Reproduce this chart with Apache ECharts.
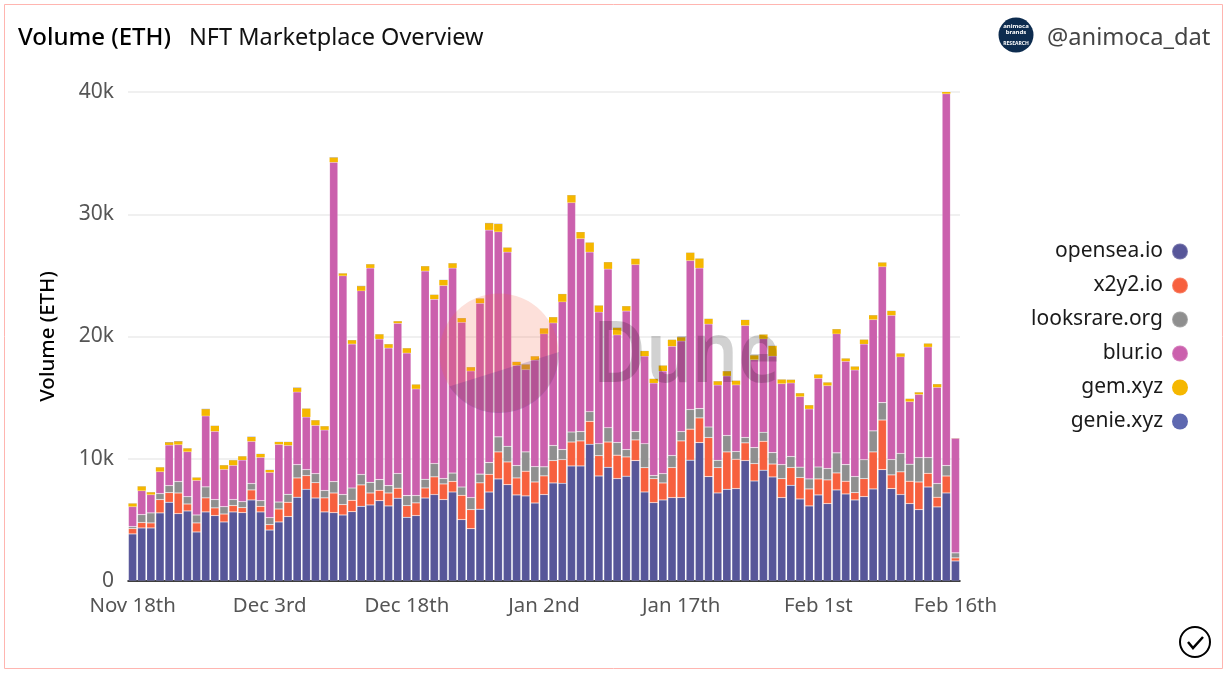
<!DOCTYPE html>
<html><head><meta charset="utf-8">
<style>html,body{margin:0;padding:0;background:#fff}#c{width:1227px;height:673px}</style>
<script src="https://cdn.jsdelivr.net/npm/echarts@6/dist/echarts.min.js"></script>
</head><body><div id="c"></div>
<script>
const FONT='"Noto Sans"';
const categories=["Nov 18th","Nov 19th","Nov 20th","Nov 21st","Nov 22nd","Nov 23rd","Nov 24th","Nov 25th","Nov 26th","Nov 27th","Nov 28th","Nov 29th","Nov 30th","Dec 1st","Dec 2nd","Dec 3rd","Dec 4th","Dec 5th","Dec 6th","Dec 7th","Dec 8th","Dec 9th","Dec 10th","Dec 11th","Dec 12th","Dec 13th","Dec 14th","Dec 15th","Dec 16th","Dec 17th","Dec 18th","Dec 19th","Dec 20th","Dec 21st","Dec 22nd","Dec 23rd","Dec 24th","Dec 25th","Dec 26th","Dec 27th","Dec 28th","Dec 29th","Dec 30th","Dec 31st","Jan 1st","Jan 2nd","Jan 3rd","Jan 4th","Jan 5th","Jan 6th","Jan 7th","Jan 8th","Jan 9th","Jan 10th","Jan 11th","Jan 12th","Jan 13th","Jan 14th","Jan 15th","Jan 16th","Jan 17th","Jan 18th","Jan 19th","Jan 20th","Jan 21st","Jan 22nd","Jan 23rd","Jan 24th","Jan 25th","Jan 26th","Jan 27th","Jan 28th","Jan 29th","Jan 30th","Jan 31st","Feb 1st","Feb 2nd","Feb 3rd","Feb 4th","Feb 5th","Feb 6th","Feb 7th","Feb 8th","Feb 9th","Feb 10th","Feb 11th","Feb 12th","Feb 13th","Feb 14th","Feb 15th","Feb 16th"];
const opensea=[3850,4340,4340,5570,6440,5510,5730,4010,5650,5350,4830,5650,5590,6630,5650,4170,4830,5270,6850,7500,6790,5650,5590,5400,5670,6110,6220,6570,6140,6770,5210,5350,6790,7070,6660,7280,5020,4280,5870,7280,8350,7880,7040,6960,6380,7070,8020,7990,9410,9410,11180,8590,9300,8380,8570,9850,7280,6410,6630,6820,6820,9880,11320,8540,7200,7500,7560,9850,8180,9060,8510,6820,7830,6710,6140,7040,6330,7450,7120,6630,6900,7530,9110,7560,7070,6330,5840,7690,6060,7200,1640];
const x2y2=[440,440,410,1090,790,1690,570,740,1150,630,650,520,410,820,460,440,1060,1170,1580,1120,1250,1150,1610,850,930,1750,980,850,1060,820,950,1040,820,1450,1280,870,1990,1560,2160,1450,2210,1860,1390,2020,1720,1530,1830,1940,1960,2050,1880,1660,2070,1910,1580,1690,1990,1960,1390,2460,4640,2540,2020,3190,2070,3060,2400,1450,1420,2370,1060,1550,1450,1750,1390,1310,1940,1390,1040,600,1470,3030,4060,1120,1860,1830,2260,1120,790,1390,250];
const looksrare=[160,650,820,490,570,930,600,650,900,680,600,490,490,520,460,570,570,650,1090,490,740,600,930,820,1010,850,870,870,600,1200,820,600,710,1090,440,680,680,980,710,950,1230,1280,1010,1580,1250,740,1230,820,820,760,790,980,1170,1040,600,680,1960,250,760,980,760,1610,760,870,600,1340,630,440,1310,740,930,1150,900,850,820,980,930,1640,1360,1310,1550,1720,1420,1250,1500,1390,1990,1280,1120,850,410];
const blur=[1640,1960,1500,1800,3330,3030,3680,2840,5810,5590,3060,2810,3410,3460,3550,3710,4720,4010,5950,4310,3960,4960,26130,17900,11790,15030,17540,11510,11270,12300,11680,8730,17050,13450,15800,16780,13480,10370,13990,19040,16780,15900,8210,6740,8730,10880,10040,12090,18770,15800,13070,10780,12990,8810,11350,13670,7170,7580,8400,8950,7420,12190,11510,8430,6170,4880,5460,9170,7200,7640,7910,6630,6030,5780,5730,7260,6790,9740,8460,8730,9470,9110,11130,11810,7910,5130,5180,9060,7880,30420,9380];
const gem=[250,350,190,350,220,270,270,220,550,440,330,410,300,350,270,190,190,270,330,680,410,300,380,190,300,380,300,380,300,160,380,350,380,350,440,380,330,300,380,550,630,350,270,410,300,440,460,630,600,520,760,520,550,570,380,460,410,330,440,520,300,630,760,410,300,380,330,440,350,350,820,330,250,270,300,300,250,380,220,270,350,350,330,350,270,220,160,270,250,250,10];
const genie=[10,10,10,10,20,20,10,10,20,10,10,10,10,20,10,10,10,10,20,10,10,10,20,10,10,20,10,10,10,10,10,10,10,10,10,10,10,10,10,20,20,10,10,10,10,10,10,10,10,10,10,10,10,10,10,10,10,10,10,10,10,10,10,10,10,10,10,10,10,10,10,10,10,10,10,10,10,10,10,10,10,10,10,10,10,10,10,10,10,10,5];
const seriesNames=["opensea.io","x2y2.io","looksrare.org","blur.io","gem.xyz","genie.xyz"];
const seriesValues=[opensea,x2y2,looksrare,blur,gem,genie];
const colors=["#575699","#f7603e","#8f8f8f","#cb60ad","#f5b700","#5e68b0"];
const yTicks={min:0,max:40000,interval:10000};

// outline of the lower part of the watermark logo
const logoLower=[];
for(let a=-1;a<=146;a+=3){const r=a*Math.PI/180;logoLower.push([499+60*Math.cos(r),353+60*Math.sin(r)]);}

const chart=echarts.init(document.getElementById('c'),null,{renderer:'canvas'});
chart.setOption({
  animation:false,
  backgroundColor:'#fff',
  color:colors,
  grid:{left:128,right:267,top:92,bottom:92,containLabel:false},
  legend:{orient:'vertical',right:33,top:236,align:'right',icon:'circle',itemWidth:16,itemHeight:16,itemGap:13,
    selectedMode:false,data:seriesNames,textStyle:{fontFamily:FONT,fontSize:21,color:'#1a1a1a',padding:[0,4,0,0]}},
  xAxis:{type:'category',data:categories,boundaryGap:true,
    axisTick:{show:false},axisLine:{show:true,lineStyle:{color:'#000',width:1.5}},
    axisLabel:{interval:14,margin:15,fontFamily:FONT,fontSize:20.4,color:'#555',hideOverlap:false},splitLine:{show:false}},
  yAxis:{type:'value',min:yTicks.min,max:yTicks.max,interval:yTicks.interval,
    name:'Volume (ETH)',nameLocation:'middle',nameGap:69,
    nameTextStyle:{fontFamily:FONT,fontSize:20.5,fontWeight:500,color:'#000'},
    axisLine:{show:false},axisTick:{show:false},
    axisLabel:{margin:14,fontFamily:FONT,fontSize:21,color:'#555',padding:[0,0,4,0],formatter:v=>v===0?'0':(v/1000)+'k'},
    splitLine:{show:true,lineStyle:{color:'#f0f0f0',width:2}}},
  series:seriesNames.map((n,i)=>({name:n,type:'bar',stack:'total',data:seriesValues[i],barWidth:8.3,
    itemStyle:i<4?{color:colors[i],borderColor:'rgba(255,255,255,0.2)',borderWidth:0.6}:{color:colors[i],borderWidth:0},
    emphasis:{disabled:true}})),
  graphic:{elements:[
    {type:'rect',silent:true,z:0,shape:{x:4.5,y:4.5,width:1218,height:664},style:{fill:'none',stroke:'#ffb5b0',lineWidth:1}},
    {type:'text',silent:true,x:18,y:38,style:{text:'Volume (ETH)',font:'500 24px '+FONT,fill:'#000',textVerticalAlign:'middle'}},
    {type:'text',silent:true,x:189,y:38,style:{text:'NFT Marketplace Overview',font:'400 23.5px '+FONT,fill:'#111',textVerticalAlign:'middle'}},
    {type:'text',silent:true,x:1047,y:38,style:{text:'@animoca_dat',font:'400 23.7px '+FONT,fill:'#444',textVerticalAlign:'middle'}},
    {type:'circle',silent:true,shape:{cx:1016,cy:35,r:17.5},style:{fill:'#0d2c4f'}},
    {type:'text',silent:true,x:1016,y:29,style:{text:'animoca\nbrands',font:'700 6px '+FONT,fill:'#fff',align:'center',verticalAlign:'middle',lineHeight:6}},
    {type:'text',silent:true,x:1016,y:44,style:{text:'RESEARCH',font:'700 5px '+FONT,fill:'#fff',align:'center',verticalAlign:'middle'}},
    {type:'circle',silent:true,shape:{cx:1195,cy:642,r:15},style:{fill:'none',stroke:'#000',lineWidth:2}},
    {type:'polyline',silent:true,shape:{points:[[1188,642],[1193,648],[1203,637]]},style:{fill:'none',stroke:'#000',lineWidth:2.5}},
    {type:'circle',silent:true,z:100,shape:{cx:499,cy:353,r:59.5},style:{fill:'rgba(245,100,70,0.2)'}},
    {type:'polygon',silent:true,z:101,shape:{points:logoLower},style:{fill:'rgba(60,40,140,0.2)'}},
    {type:'text',silent:true,z:102,x:593,y:358,scaleX:0.86,style:{text:'Dune',font:'600 84px '+FONT,fill:'rgba(0,0,0,0.18)',textVerticalAlign:'middle'}}
  ]}
});
</script></body></html>
